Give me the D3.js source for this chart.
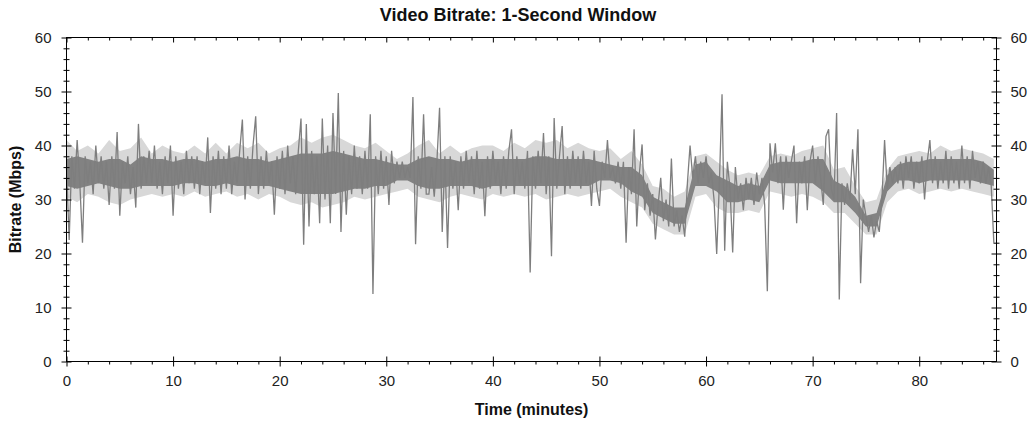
<!DOCTYPE html>
<html><head><meta charset="utf-8">
<script src="https://cdn.jsdelivr.net/npm/d3@7"></script>
<style>html,body{margin:0;padding:0;background:#fff}svg{display:block}</style>
</head><body><svg id="c" width="1033" height="421"></svg>
<script>
// Dark series: bitrate (Mbps) sampled every 0.25 minute, 0 .. 87 min
const stepMin = 0.25;
const bitrate = [
36,22.5,38,32,41,33,22,38,
33,37,31,40,33,38,32,37,
29,38,32,42.5,27,37,33,38,
31,36,28.5,44,32,38,33,39,
33,40,32,37,31,38,33,40,
27,38,32,37,31,39,33,38,
32,38,31,37,33,41.5,27.5,38,
32,39,31,38,32,40,31,37,
33,39,44.8,30,38,32,40,45.4,
31,38,32,39,33,37,27.2,38,
32,39,31,40,33,38,31,39,
45,21.6,44,25,39,31,38,25.6,
45,30,40,25.6,46,31,49.7,24,
39,27.2,38,31,40,32,38,31,
39,32,45.8,12.5,38,31,39,32,
38,29,39,33,37,34,37,34,
36,34,49,21.7,38,32,45.8,31,
31,36,30.5,37,47,24,38,21,
38,32,37,28,38,32,39,33,
38,31,39,32,37,26.9,38,32,
39,33,37,31,38,32,39,43,
31,38,33,37,32,39,16.5,38,
32,39,33,42.3,31,38,19.5,45.1,
32,38,43.6,31,38,32,39,33,
38,32,39,33,37,28.8,39,32,
28.8,37,34,41,34,36,33,37,
32,37,22,36,31,43,25,35,
40.2,28,33,27,31,22.6,29,34,
26,30,25,37.6,25,28,24,27,
23.1,33,40,34,38,33,37,34,
38,33,35,30,19.9,33,49.5,20.5,
37,32,20.2,36,30,33,28,34,
30,34,29,35,31,34,29,13,
40.4,35,40.4,33,38,28.1,38,34,
37,40,25.6,37,33,38,28,37,
40,33,38,34,29,41.7,43,32,
30,46,11.5,33,29,33,30,39.3,
31,43,14.5,30,27,24,27,23,
26,24,30,41,32,36,33,36,
33,37,32,38,34,38,32,37,
33,38,30,37,41,33,38,32,
37,33,39,32,38,33,37,32,
40,33,38,32,39,34,37,33,
37,33,36,32.8,22
];
// Dense dark core of the trace (upper / lower edge per minute), 0 .. 87 min
const coreHi = [
37.5,38,37.5,37,37.5,37.5,36.5,38,37.5,37.5,
37,37.5,37.5,37,37.5,37.5,38,37.5,37.5,37,
37.5,38,38.5,38.5,38.5,39,38.5,38,37.5,37.5,
37,36.5,36.5,37.5,38,37.5,37.5,37,37.5,37.5,
37.5,37.5,37.5,37.5,38,38,37.5,37.5,37.5,37.5,
37,36.5,36,36,34.5,30.5,29.5,28.5,28.5,36.5,
37,34.5,33.5,32.5,33,32.5,36.5,37,37,37,
37.5,37.5,33.5,32.5,30.5,27,27.5,34.5,36.5,37,
37,37.5,37.5,37.5,37.5,37.5,37,35.5
];
const coreLo = [
32.5,32,32.5,33,32.5,32,32,32.5,32.5,32.5,
32.5,33,33,32.5,32.5,33,32.5,32.5,32.5,32.5,
32,31.5,31,31,31,31,31.5,32,32,32.5,
32.5,33.5,33.5,32.5,32,32,32.5,32.5,32.5,32,
32.5,32.5,32.5,32.5,32.5,32.5,32.5,32.5,32.5,32.5,
33.5,33.5,33,31.5,30.5,27.5,26.5,25.5,25.5,32.5,
32.5,31.5,29.5,29.5,30,29.5,33.5,33,33,33,
33,31.5,29.5,29.5,27.5,25,25,31.5,33.5,33.5,
33,33.5,33.5,33.5,33.5,33.5,33,32.5
];
// Light envelope (min / max per minute), 0 .. 87 min
const envHi = [
41,39,40,38.5,41,39,39.5,41.5,38.5,40,
39,38.5,40,38.5,40.5,38.5,40.5,39.5,40.5,38.5,
39.5,40,41.5,40.5,41.5,42,41,40,39.5,40.5,
39,37.5,38.5,40,41,38.5,40,38.5,39.5,40,
40,39,40.5,39.5,41,40.5,41,39.5,40.5,39.5,
39,39.5,37.5,39,36.5,32.5,32,30.5,31.5,38,
38.5,37,35.5,34.5,35,34.5,38,38.5,38,39,
39.5,40,35.5,36,32.5,29.5,30,35.5,38,38.5,
39,38.5,40,39,39.5,39,38.5,37.5
];
const envLo = [
30.5,29.5,31,30.5,29.5,29,30,30.5,31,30.5,
31,30.5,31.5,30.5,31,31.5,30.5,31,30,31,
30.5,29.5,29,29.5,28.5,29,29.5,30.5,30,30.5,
31,31.5,32,30.5,30,29.5,30.5,31,30.5,30,
31,30.5,31,30.5,31,30,30.5,31,30.5,31,
31.5,32,30.5,29.5,28.5,25.5,24.5,23.5,23.5,30.5,
31,28.5,27.5,27.5,28,27.5,31.5,31,30.5,31,
30.5,29.5,27.5,27.5,25.5,23.5,23.5,29.5,31.5,32,
31,31.5,32,31.5,32,31.5,31,30.5
];
const xMajor = [0,10,20,30,40,50,60,70,80];
const yMajor = [0,10,20,30,40,50,60];
const title = "Video Bitrate: 1-Second Window";
const xTitle = "Time (minutes)";
const yTitle = "Bitrate (Mbps)";

const svg = d3.select("#c");
const L = 66.5, R = 996.5, T = 37.5, B = 361.5;
const x = d3.scaleLinear().domain([0, 87.25]).range([L, R]);
const y = d3.scaleLinear().domain([0, 60]).range([B, T]);
const font = "'Liberation Sans', Arial, sans-serif";

// light envelope
const env = envHi.map((h, i) => ({t: i, hi: h, lo: envLo[i]}));
svg.append("path").datum(env)
  .attr("fill", "#d8d8d8")
  .attr("d", d3.area().x(d => x(d.t)).y0(d => y(d.lo)).y1(d => y(d.hi)));

// dark core
const core = coreHi.map((h, i) => ({t: i, hi: h, lo: coreLo[i]}));
svg.append("path").datum(core)
  .attr("fill", "#828282")
  .attr("d", d3.area().x(d => x(d.t)).y0(d => y(d.lo)).y1(d => y(d.hi)));

// dark series
const pts = bitrate.map((v, i) => ({t: i * stepMin, v}));
svg.append("path").datum(pts)
  .attr("fill", "none").attr("stroke", "#7e7e7e").attr("stroke-width", 1.3)
  .attr("d", d3.line().x(d => x(d.t)).y(d => y(d.v)));

// frame
svg.append("rect").attr("x", L).attr("y", T).attr("width", R - L).attr("height", B - T)
  .attr("fill", "none").attr("stroke", "#000");

const xMinor = d3.range(0, 87.25, 2).filter(v => v % 10 !== 0);
const yMinor = d3.range(0, 61, 2).filter(v => v % 10 !== 0);
function ax(gen, tx, ty) {
  const g = svg.append("g").attr("transform", `translate(${tx},${ty})`).call(gen);
  g.select(".domain").remove();
  g.selectAll("line").attr("stroke", "#000");
  g.selectAll("text").attr("font-family", font).attr("font-size", 15).attr("fill", "#222");
  return g;
}
// bottom
ax(d3.axisBottom(x).tickValues(xMajor).tickSize(5).tickPadding(9).tickFormat(d3.format("d")), 0, B);
ax(d3.axisBottom(x).tickValues(xMajor).tickSize(-5).tickFormat(""), 0, B);
ax(d3.axisBottom(x).tickValues(xMinor).tickSize(3).tickFormat(""), 0, B);
// top
ax(d3.axisTop(x).tickValues(xMajor).tickSize(-5).tickFormat(""), 0, T);
ax(d3.axisTop(x).tickValues(xMinor).tickSize(-3).tickFormat(""), 0, T);
// left
ax(d3.axisLeft(y).tickValues(yMajor).tickSize(5).tickPadding(10).tickFormat(d3.format("d")), L, 0);
ax(d3.axisLeft(y).tickValues(yMajor).tickSize(-5).tickFormat(""), L, 0);
ax(d3.axisLeft(y).tickValues(yMinor).tickSize(3).tickFormat(""), L, 0);
ax(d3.axisLeft(y).tickValues(yMinor).tickSize(-3).tickFormat(""), L, 0);
// right
ax(d3.axisRight(y).tickValues(yMajor).tickSize(5).tickPadding(9).tickFormat(d3.format("d")), R, 0);
ax(d3.axisRight(y).tickValues(yMajor).tickSize(-5).tickFormat(""), R, 0);
ax(d3.axisRight(y).tickValues(yMinor).tickSize(3).tickFormat(""), R, 0);
ax(d3.axisRight(y).tickValues(yMinor).tickSize(-3).tickFormat(""), R, 0);

svg.append("text").attr("x", 518).attr("y", 21).attr("text-anchor", "middle")
  .attr("font-family", font).attr("font-weight", "bold").attr("font-size", 18).attr("fill", "#111").text(title);
svg.append("text").attr("x", (L + R) / 2).attr("y", 415).attr("text-anchor", "middle")
  .attr("font-family", font).attr("font-weight", "bold").attr("font-size", 16).attr("fill", "#111").text(xTitle);
svg.append("text").attr("transform", `translate(21,${(T + B) / 2}) rotate(-90)`).attr("text-anchor", "middle")
  .attr("font-family", font).attr("font-weight", "bold").attr("font-size", 16).attr("fill", "#111").text(yTitle);
</script></body></html>
